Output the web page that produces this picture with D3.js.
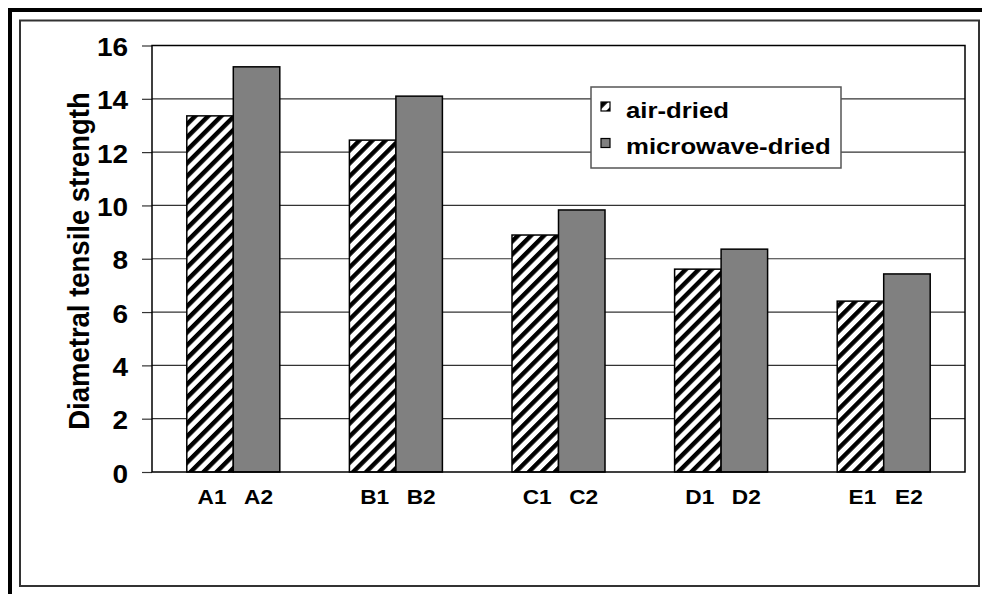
<!DOCTYPE html>
<html>
<head>
<meta charset="utf-8">
<script src="https://cdn.jsdelivr.net/npm/d3@7"></script>
<style>
  body { margin: 0; background: #fff; }
  text { font-family: "Liberation Sans", Arial, sans-serif; font-weight: bold; fill: #000; }
</style>
</head>
<body>
<div id="viz"><svg width="982" height="594"></svg></div>
<script>
const groups = ["A", "B", "C", "D", "E"]
const seriesNames = ["air-dried", "microwave-dried"]
const airDried = [13.36, 12.45, 8.89, 7.61, 6.41]
const microwaveDried = [15.2, 14.1, 9.83, 8.36, 7.43]
const labelsAir = ["A1", "B1", "C1", "D1", "E1"]
const labelsMicro = ["A2", "B2", "C2", "D2", "E2"]
const yTicks = [0, 2, 4, 6, 8, 10, 12, 14, 16]

const sx = 1.12  // text in the picture is a bit wider than normal

svg = d3.select("#viz").select("svg")

// frames
svg.append("rect").attr("x", 10).attr("y", 10).attr("width", 990).attr("height", 600)
    .attr("fill", "none").attr("stroke", "#000").attr("stroke-width", 4)
svg.append("rect").attr("x", 20).attr("y", 20.5).attr("width", 959).attr("height", 565.5)
    .attr("fill", "none").attr("stroke", "#333").attr("stroke-width", 2)

const plotLeft = 152, plotRight = 965, plotTop = 45.5, plotBottom = 472

y = d3.scaleLinear().domain([0, 16]).range([plotBottom, plotTop])
x0 = d3.scaleBand().domain(groups).range([plotLeft, plotRight])
x1 = d3.scaleBand().domain(seriesNames).range([34.8, 127.8])

defs = svg.append("defs")
pat = defs.append("pattern")
    .attr("id", "hatch")
    .attr("patternUnits", "userSpaceOnUse")
    .attr("width", 9.2).attr("height", 9.2)
    .attr("patternTransform", "rotate(45)")
pat.append("rect").attr("width", 9.2).attr("height", 9.2).attr("fill", "#fff")
pat.append("rect").attr("width", 4.4).attr("height", 9.2).attr("fill", "#000")

// gridlines
svg.append("g")
    .selectAll("line")
    .data(yTicks.filter(d => d > 0 && d < 16))
    .enter()
    .append("line")
    .attr("x1", plotLeft).attr("x2", plotRight)
    .attr("y1", d => y(d)).attr("y2", d => y(d))
    .attr("stroke", "#333").attr("stroke-width", 1.2)

// y axis
yAxis = svg.append("g")
    .attr("transform", "translate(" + plotLeft + ",0)")
    .call(d3.axisLeft(y).tickValues(yTicks).tickSizeInner(10).tickSizeOuter(0).tickPadding(11.4))
yAxis.select(".domain").remove()
yAxis.selectAll(".tick line").attr("stroke", "#333").attr("stroke-width", 1.2)
yAxis.selectAll(".tick text")
    .attr("font-family", null)
    .attr("font-size", 25)
    .attr("dy", "0.4em")
    .attr("transform", "scale(" + sx + ",1)")

// bars
const rows = groups.map((g, i) => ({group: g, values: [airDried[i], microwaveDried[i]], labels: [labelsAir[i], labelsMicro[i]]}))

barG = svg.append("g")
    .selectAll("g")
    .data(rows)
    .enter()
    .append("g")
    .attr("transform", d => "translate(" + x0(d.group) + ",0)")

barG.selectAll("rect")
    .data(d => d.values.map((v, k) => ({series: seriesNames[k], value: v})))
    .enter()
    .append("rect")
    .attr("x", d => x1(d.series))
    .attr("width", x1.bandwidth())
    .attr("y", d => y(d.value))
    .attr("height", d => y(0) - y(d.value))
    .attr("fill", d => d.series == "air-dried" ? "url(#hatch)" : "#808080")
    .attr("stroke", "#000").attr("stroke-width", 1.5)

barG.selectAll("text")
    .data(d => d.labels.map((l, k) => ({series: seriesNames[k], label: l})))
    .enter()
    .append("text")
    .attr("transform", d => "translate(" + (x1(d.series) + x1.bandwidth() / 2 + 2) + ",504) scale(1.08,1)")
    .attr("text-anchor", "middle")
    .attr("font-size", 21)
    .text(d => d.label)

// plot frame
svg.append("rect").attr("x", plotLeft).attr("y", plotTop).attr("width", plotRight - plotLeft).attr("height", plotBottom - plotTop)
    .attr("fill", "none").attr("stroke", "#000").attr("stroke-width", 1.5)

// y title
svg.append("text")
    .attr("transform", "translate(89," + ((90 + 432) / 2) + ") rotate(-90) scale(1,1.1)")
    .attr("text-anchor", "middle")
    .attr("font-size", 27.5)
    .text("Diametral tensile strength")

// legend
legend = svg.append("g").attr("transform", "translate(591,87)")
legend.append("rect").attr("width", 250).attr("height", 81)
    .attr("fill", "#fff").attr("stroke", "#555").attr("stroke-width", 1.5)
legendItems = legend.selectAll("g.item")
    .data(seriesNames)
    .enter()
    .append("g")
    .attr("class", "item")
    .attr("transform", (d, i) => "translate(0," + i * 36.5 + ")")
legendItems.append("rect")
    .attr("x", 10).attr("y", 15).attr("width", 9).attr("height", 9)
    .attr("fill", d => d == "air-dried" ? "url(#hatch)" : "#808080")
    .attr("stroke", "#000").attr("stroke-width", 1.2)
legendItems.append("text")
    .attr("transform", "translate(35,30.7) scale(" + sx + ",1)")
    .attr("font-size", 23)
    .text(d => d)
</script>
</body>
</html>
